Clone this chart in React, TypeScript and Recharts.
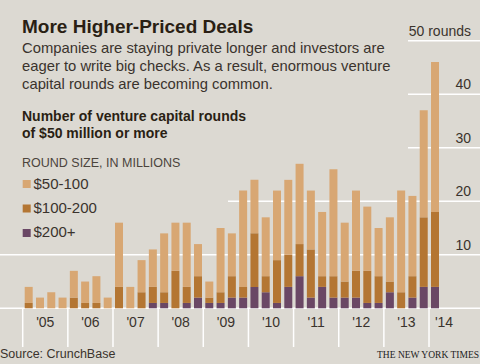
import React from 'react';
import { BarChart, Bar, XAxis, YAxis, CartesianGrid } from 'recharts';

// quarters, 2005 Q1 .. 2014 Q1
const QUARTERS = [
  '2005Q1', '2005Q2', '2005Q3', '2005Q4',
  '2006Q1', '2006Q2', '2006Q3', '2006Q4',
  '2007Q1', '2007Q2', '2007Q3', '2007Q4',
  '2008Q1', '2008Q2', '2008Q3', '2008Q4',
  '2009Q1', '2009Q2', '2009Q3', '2009Q4',
  '2010Q1', '2010Q2', '2010Q3', '2010Q4',
  '2011Q1', '2011Q2', '2011Q3', '2011Q4',
  '2012Q1', '2012Q2', '2012Q3', '2012Q4',
  '2013Q1', '2013Q2', '2013Q3', '2013Q4',
  '2014Q1',
];

// number of rounds per size bucket
const ROUNDS_50_100 = [
  3, 2, 3, 2, 5, 4, 5, 2, 12, 4, 6, 7, 11, 9, 12, 6, 3, 12, 8, 18,
  10, 11, 13, 14, 15, 11, 12, 20, 11, 15, 12, 9, 12, 19, 15, 20, 28,
];
const ROUNDS_100_200 = [
  1, 0, 0, 0, 2, 1, 1, 0, 4, 0, 3, 3, 2, 7, 3, 4, 1, 2, 4, 2,
  10, 3, 8, 6, 6, 9, 2, 4, 3, 5, 6, 5, 2, 3, 4, 13, 14,
];
const ROUNDS_200_PLUS = [
  0, 0, 0, 0, 0, 0, 0, 0, 0, 0, 0, 1, 1, 0, 1, 2, 1, 1, 2, 2,
  4, 3, 1, 4, 6, 2, 4, 2, 2, 2, 1, 1, 3, 0, 2, 4, 4,
];

const YEAR_LABELS = ["'05", "'06", "'07", "'08", "'09", "'10", "'11", "'12", "'13", "'14"];
const Y_TICKS = [0, 10, 20, 30, 40, 50];

const SERIES = [
  { key: 'r50', name: '$50-100', color: '#d8a773' },
  { key: 'r100', name: '$100-200', color: '#b47633' },
  { key: 'r200', name: '$200+', color: '#6a4765' },
];

const data = QUARTERS.map((q, i) => ({
  q,
  r50: ROUNDS_50_100[i],
  r100: ROUNDS_100_200[i],
  r200: ROUNDS_200_PLUS[i],
}));

const W = 480;
const H = 364;
const PLOT_TOP = 40.7;
const PLOT_LEFT = 22.7;
const PLOT_RIGHT = 440.3;
const BASELINE = 308.3;
const QW = (PLOT_RIGHT - PLOT_LEFT) / QUARTERS.length;
const BG = '#dcd9d2';
const FONT = '"Liberation Sans", Arial, sans-serif';
const TEXT = '#3a332d';
// where each white gridline starts (the text block covers the rest)
const GRID_START: Record<number, number> = { 0: 0, 10: 0, 20: 228, 30: 408, 40: 408, 50: 408 };

const gridLine = (props: any) => {
  const { y1, key } = props;
  const v = Math.round((BASELINE - y1) / ((BASELINE - PLOT_TOP) / 5)) * 10;
  const start = GRID_START[v] ?? 0;
  return <line key={key} x1={start} x2={W} y1={y1} y2={y1} stroke="#fff" strokeWidth={1.5} />;
};

const AxisLabel = (props: any) => {
  const { y, payload } = props;
  const v = payload.value;
  const label = v === 50 ? '50 rounds' : v === 0 ? '' : String(v);
  if (!label) return null;
  return (
    <text x={471} y={y - 5} textAnchor="end" fontSize={14} fill={TEXT} fontFamily={FONT}>
      {label}
    </text>
  );
};

const YearTick = (props: any) => {
  const { x, index } = props;
  if (index % 4 !== 0) return null;
  const yearIdx = index / 4;
  const left = x - QW / 2;
  const last = yearIdx === YEAR_LABELS.length - 1;
  const cx = last ? left + 15 : left + QW * 2;
  return (
    <g>
      <line x1={left} x2={left} y1={BASELINE} y2={347} stroke="#fff" strokeWidth={1.5} />
      <text x={cx} y={327} textAnchor="middle" fontSize={14} fill={TEXT} fontFamily={FONT}>
        {YEAR_LABELS[yearIdx]}
      </text>
    </g>
  );
};

export default function App() {
  return (
    <div style={{ position: 'absolute', left: 0, top: 0, width: W, height: H, background: BG, overflow: 'hidden' }}>
      <div style={{ position: 'absolute', left: 0, top: 0 }}>
        <BarChart
          width={W}
          height={H}
          data={data}
          margin={{ top: PLOT_TOP, right: 0, bottom: 10.7, left: PLOT_LEFT }}
          barSize={8}
        >
          <CartesianGrid vertical={false} horizontal={gridLine} />
          <XAxis dataKey="q" height={45} axisLine={false} tickLine={false} interval={0} tick={<YearTick />} />
          <YAxis
            orientation="right"
            width={W - PLOT_RIGHT}
            domain={[0, 50]}
            ticks={Y_TICKS}
            interval={0}
            axisLine={false}
            tickLine={false}
            tick={<AxisLabel />}
          />
          <Bar dataKey="r200" stackId="a" fill={SERIES[2].color} isAnimationActive={false} />
          <Bar dataKey="r100" stackId="a" fill={SERIES[1].color} isAnimationActive={false} />
          <Bar dataKey="r50" stackId="a" fill={SERIES[0].color} isAnimationActive={false} />
        </BarChart>
      </div>
      <svg width={W} height={H} style={{ position: 'absolute', left: 0, top: 0, pointerEvents: 'none' }} fontFamily={FONT}>
        <text x={22} y={33} fontSize={19} fontWeight="bold" fill="#2a1f14">More Higher-Priced Deals</text>
        <text fontSize={14.8} fill={TEXT}>
          <tspan x={22} y={53}>Companies are staying private longer and investors are</tspan>
          <tspan x={22} y={71}>eager to write big checks. As a result, enormous venture</tspan>
          <tspan x={22} y={88.5}>capital rounds are becoming common.</tspan>
        </text>
        <text fontSize={14} fontWeight="bold" fill="#2a1f14">
          <tspan x={22} y={121}>Number of venture capital rounds</tspan>
          <tspan x={22} y={138}>of $50 million or more</tspan>
        </text>
        <text x={22} y={166.5} fontSize={12.5} fill="#4b443c">ROUND SIZE, IN MILLIONS</text>
        {SERIES.map((s, i) => (
          <g key={s.key}>
            <rect x={22.7} y={180 + i * 24.5} width={8} height={8} fill={s.color} />
            <text x={33.5} y={188.5 + i * 24} fontSize={15} fill={TEXT}>{s.name}</text>
          </g>
        ))}
        <text x={0} y={358} fontSize={12.5} fill={TEXT}>Source: CrunchBase</text>
        <text x={479} y={358} textAnchor="end" fontSize={9.5} fill="#222" fontFamily='"Liberation Serif", "Times New Roman", serif'>
          THE NEW YORK TIMES
        </text>
      </svg>
    </div>
  );
}
